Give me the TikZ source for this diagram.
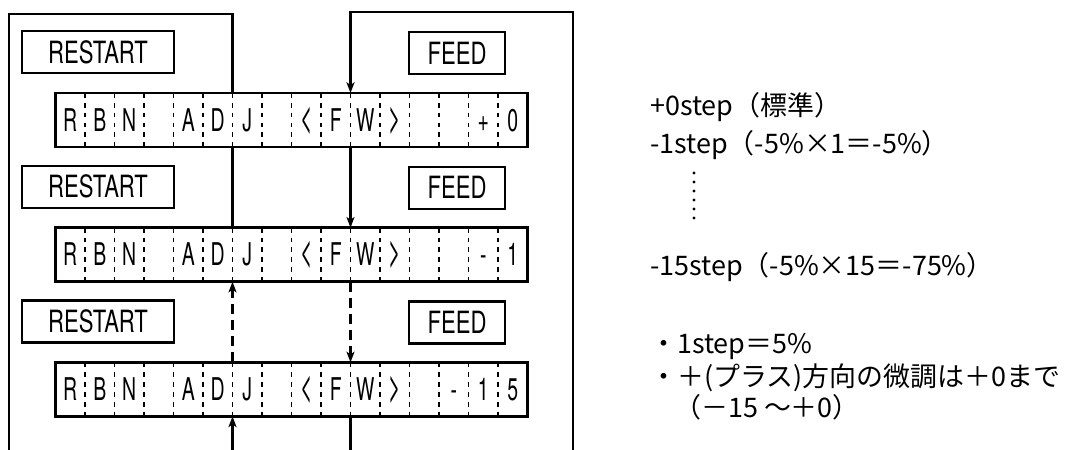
\documentclass[tikz,border=0pt]{standalone}
\usepackage{fontspec}
\usetikzlibrary{arrows.meta}
\newfontfamily\jpfont{Noto Sans CJK JP}
\newfontfamily\dispfont[FakeStretch=0.62]{TeX Gyre Heros}
\newfontfamily\angfont[FakeStretch=0.5]{TeX Gyre Heros}
\newfontfamily\btnfont[FakeStretch=0.72]{TeX Gyre Heros}
\begin{document}
\begin{tikzpicture}[x=0.75pt,y=-0.75pt,
  disp/.style={draw,line width=1.9pt,minimum width=354pt,minimum height=40.5pt,inner sep=0pt,outer sep=0pt,anchor=north west},
  btn/.style={draw,line width=1.8pt,minimum height=31.5pt,inner sep=0pt,outer sep=0pt,anchor=north west,font=\btnfont\fontsize{23}{23}\selectfont},
  cellch/.style={inner sep=0pt,anchor=base,font=\dispfont\fontsize{23.5}{23.5}\selectfont},
  divider/.style={line width=0.9pt,dash pattern=on 3.6pt off 3.78pt},
  loopline/.style={line width=1.6pt},
  flow/.style={line width=1.6pt,-{Stealth[length=8pt,width=6pt,inset=2pt]}},
  dflow/.style={flow,dash pattern=on 7.5pt off 4.5pt},
  note/.style={anchor=base west,inner sep=0pt,font=\jpfont\fontsize{20.2}{24}\selectfont}]
\useasboundingbox (0,0) rectangle (1065,450);

\newcommand\angl[1]{{\angfont\fontsize{32}{32}\selectfont #1}}
\foreach \r in {1,2,3}{
  \pgfmathsetmacro\t{93+(\r-1)*134.7}
  \node[disp] (d\r) at (55.5,\t) {};
  \node[btn,minimum width=114pt] (rs\r) at (22,\t-62) {RESTART};
  \node[btn,minimum width=72pt] (fd\r) at (409,\t-61) {FEED};
  \foreach \k in {1,...,15}{
    \draw[divider] ([xshift=\k*22.125pt]d\r.north west) -- ([xshift=\k*22.125pt]d\r.south west);
  }
  \foreach \j/\ch in {1/R,2/B,3/N,5/A,6/D,7/J,9/\angl{<},10/F,11/W,12/\angl{>}}{
    \node[cellch] (c\r-\j) at ({55.5+29.5*(\j-0.5)},\t+38) {\ch};
  }
}
\foreach \r/\j/\ch in {1/15/+,1/16/0,2/15/-,2/16/1,3/14/-,3/15/1,3/16/5}{
  \pgfmathsetmacro\t{93+(\r-1)*134.7}
  \node[cellch] (c\r-\j) at ({55.5+29.5*(\j-0.5)},\t+38) {\ch};
}

% left loop
\coordinate (lt) at (232.5,14);
\coordinate (ltl) at (9,14);
\coordinate (lb) at (9,450);
\coordinate (lbot) at (232.5,450);
\draw[loopline] (d1.north -| lt) -- (lt) -- (ltl) -- (lb);
\draw[loopline] (d2.north -| lt) -- (d1.south -| lt);
\draw[dflow] (d3.north -| lt) -- (d2.south -| lt);
\draw[flow] (lbot) -- (d3.south -| lbot);

% right loop
\coordinate (rt) at (350.5,12);
\coordinate (rtr) at (573,12);
\coordinate (rb) at (573,450);
\coordinate (rbot) at (350.5,450);
\draw[flow] (rb) -- (rtr) -- (rt) -- (d1.north -| rt);
\draw[flow] (d1.south -| rt) -- (d2.north -| rt);
\draw[dflow] (d2.south -| rt) -- (d3.north -| rt);
\draw[loopline] (d3.south -| rt) -- (rbot);

% notes
\node[note] (t1) at (650,115) {+0step（標準）};
\node[note] (t2) at (650,153) {-1step（-5\%×1＝-5\%）};
\foreach \n in {0,...,5}{ \fill (694,{173+9*\n}) circle (1.6); }
\node[note] (t3) at (650,275) {-15step（-5\%×15＝-75\%）};
\node[note] (t4) at (650,353) {・1step＝5\%};
\node[note] (t5) at (650,386) {・＋(プラス)方向の微調は＋0まで};
\node[note] (t6) at (674,417) {（－15 ～＋0）};
\end{tikzpicture}
\end{document}
